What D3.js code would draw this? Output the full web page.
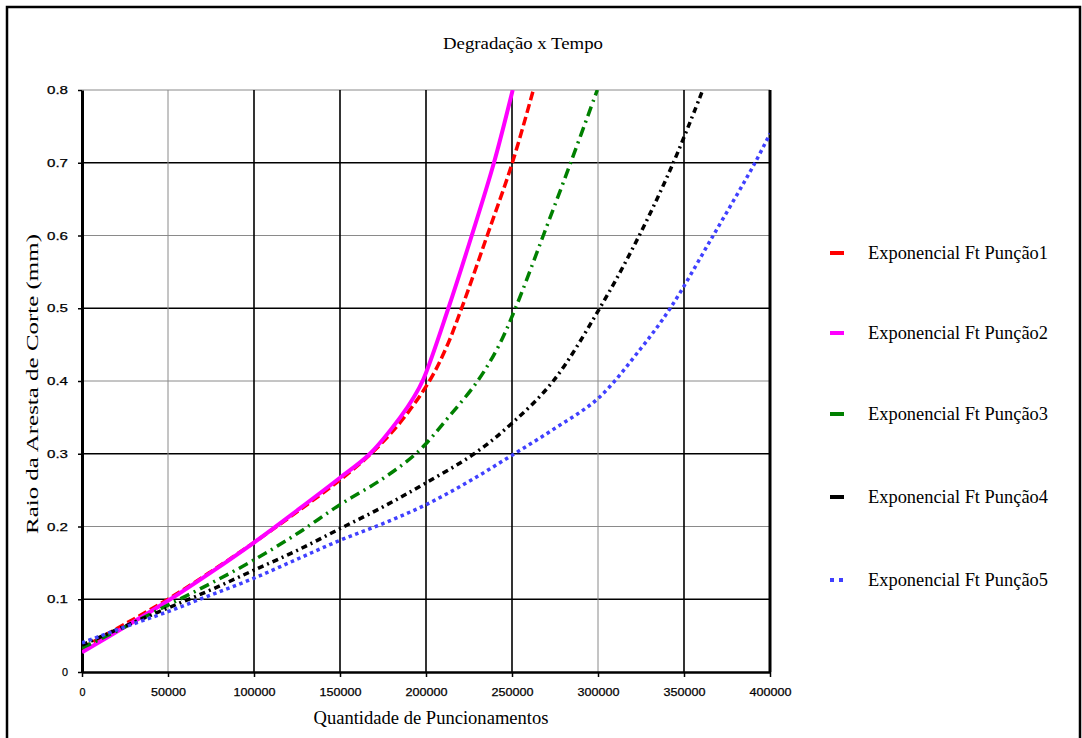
<!DOCTYPE html>
<html>
<head>
<meta charset="utf-8">
<script src="https://cdn.jsdelivr.net/npm/d3@7"></script>
<style>
  html, body { margin: 0; padding: 0; background: #fff; }
  svg { display: block; }
</style>
</head>
<body>
<svg id="chart" width="1082" height="738"></svg>
<script>
// ---------- data ----------
const chartTitle = "Degradação x Tempo";
const xTitle = "Quantidade de Puncionamentos";
const yTitle = "Raio da Aresta de Corte (mm)";
const xTickValues = [0, 50000, 100000, 150000, 200000, 250000, 300000, 350000, 400000];
const xTickLabels = ["0", "50000", "100000", "150000", "200000", "250000", "300000", "350000", "400000"];
const yTickValues = [0, 0.1, 0.2, 0.3, 0.4, 0.5, 0.6, 0.7, 0.8];
const yTickLabels = ["0", "0.1", "0.2", "0.3", "0.4", "0.5", "0.6", "0.7", "0.8"];
const seriesNames = ["Exponencial Ft Punção1", "Exponencial Ft Punção2", "Exponencial Ft Punção3", "Exponencial Ft Punção4", "Exponencial Ft Punção5"];

const puncao1 = [[0,0.033],[25000,0.066],[50000,0.100],[75000,0.138],[100000,0.178],[125000,0.220],[150000,0.264],[168000,0.300],[185000,0.343],[202000,0.400],[212000,0.447],[220700,0.500],[235600,0.600],[250200,0.700],[262400,0.800]];
const puncao2 = [[0,0.027],[25000,0.062],[50000,0.098],[75000,0.137],[100000,0.178],[125000,0.222],[150000,0.267],[167400,0.300],[185000,0.350],[193000,0.378],[198400,0.402],[213000,0.500],[226600,0.600],[239500,0.700],[250400,0.800]];
const puncao3 = [[0,0.033],[25000,0.062],[50000,0.092],[75000,0.122],[100000,0.154],[125000,0.190],[150000,0.230],[175000,0.266],[195000,0.302],[213000,0.350],[230000,0.400],[242000,0.447],[252000,0.500],[268200,0.600],[284100,0.700],[299600,0.800]];
const puncao4 = [[0,0.037],[25000,0.063],[50000,0.088],[75000,0.113],[100000,0.140],[125000,0.167],[150000,0.197],[175000,0.227],[200000,0.260],[228000,0.300],[250000,0.342],[274000,0.400],[301000,0.500],[324000,0.600],[343800,0.700],[360900,0.800]];
const puncao5 = [[0,0.040],[25000,0.062],[50000,0.083],[75000,0.106],[100000,0.129],[125000,0.155],[150000,0.181],[175000,0.204],[200000,0.230],[225000,0.262],[250000,0.298],[275000,0.335],[300000,0.376],[325000,0.445],[342000,0.500],[367000,0.600],[391300,0.700],[400000,0.740]];

const seriesData = [puncao1, puncao2, puncao3, puncao4, puncao5];

// ---------- styles ----------
const colors = ["#ff0000", "#ff00ff", "#008000", "#000000", "#4040ff"];
const dashes = ["9,4", null, "10,5,2,5", "6,4,2,4", "3.5,3.5"];
const widths = [3.5, 4, 3.5, 3.5, 3.5];

const svg = d3.select("#chart");

const x = d3.scaleLinear().domain([0, 400000]).range([82, 770]);
const y = d3.scaleLinear().domain([0, 0.8]).range([672, 90]);

// outer frame
svg.append("rect").attr("x", 7).attr("y", 7).attr("width", 1073).attr("height", 745)
  .attr("fill", "none").attr("stroke", "#000").attr("stroke-width", 2.5);

// title
svg.append("text").attr("x", 523).attr("y", 49).attr("text-anchor", "middle")
  .attr("font-family", "Liberation Serif, Times New Roman, serif").attr("font-size", 17)
  .attr("textLength", 160).attr("lengthAdjust", "spacingAndGlyphs")
  .text(chartTitle);

// grid
const g = svg.append("g");
const blackY = [0.1, 0.3, 0.5, 0.7];
yTickValues.forEach(v => {
  if (v === 0) return;
  const isBlack = blackY.some(b => Math.abs(b - v) < 1e-9);
  g.append("line").attr("x1", x(0)).attr("x2", x(400000)).attr("y1", y(v)).attr("y2", y(v))
    .attr("stroke", isBlack ? "#000" : "#8a8a8a").attr("stroke-width", isBlack ? 1.6 : 1);
});
const grayX = [50000, 300000];
xTickValues.forEach(v => {
  if (v === 0 || v === 400000) return;
  const isGray = grayX.includes(v);
  g.append("line").attr("x1", x(v)).attr("x2", x(v)).attr("y1", y(0)).attr("y2", y(0.8))
    .attr("stroke", isGray ? "#8a8a8a" : "#000").attr("stroke-width", isGray ? 1 : 1.6);
});
g.append("line").attr("x1", x(400000)).attr("x2", x(400000)).attr("y1", y(0)).attr("y2", y(0.8))
  .attr("stroke", "#000").attr("stroke-width", 3);

// axes
const xAxis = d3.axisBottom(x).tickValues(xTickValues).tickFormat((d, i) => xTickLabels[i]).tickSize(5).tickSizeOuter(0);
const yAxis = d3.axisLeft(y).tickValues(yTickValues).tickFormat((d, i) => yTickLabels[i]).tickSize(4).tickSizeOuter(0);

const gx = svg.append("g").attr("transform", `translate(0,${y(0)})`).call(xAxis);
gx.select(".domain").attr("stroke", "#000").attr("stroke-width", 2.5);
gx.selectAll(".tick line").attr("stroke", "#000").attr("stroke-width", 1.5);
gx.selectAll(".tick text").attr("font-family", "Liberation Sans, Arial, sans-serif").attr("font-size", 11)
  .attr("fill", "#000").attr("stroke", "#000").attr("stroke-width", 0.25).attr("dy", "0").attr("y", 24)
  .attr("textLength", d => { const s = xTickLabels[xTickValues.indexOf(d)]; return s.length === 1 ? 6 : s.length * 7; })
  .attr("lengthAdjust", "spacingAndGlyphs");

const gy = svg.append("g").attr("transform", `translate(${x(0)},0)`).call(yAxis);
gy.select(".domain").attr("stroke", "#000").attr("stroke-width", 3);
gy.selectAll(".tick line").attr("stroke", "#000").attr("stroke-width", 1.5);
gy.selectAll(".tick text").attr("font-family", "Liberation Sans, Arial, sans-serif").attr("font-size", 11)
  .attr("fill", "#000").attr("stroke", "#000").attr("stroke-width", 0.25).attr("x", -14)
  .attr("textLength", d => (d === 0 ? 6 : 21))
  .attr("lengthAdjust", "spacingAndGlyphs");

// axis titles
svg.append("text").attr("x", 431).attr("y", 724).attr("text-anchor", "middle")
  .attr("font-family", "Liberation Serif, Times New Roman, serif").attr("font-size", 18)
  .attr("textLength", 235).attr("lengthAdjust", "spacingAndGlyphs")
  .text(xTitle);
svg.append("text").attr("transform", "translate(38,384) rotate(-90)").attr("text-anchor", "middle")
  .attr("font-family", "Liberation Serif, Times New Roman, serif").attr("font-size", 17)
  .attr("textLength", 300).attr("lengthAdjust", "spacingAndGlyphs")
  .text(yTitle);

// clip
svg.append("clipPath").attr("id", "plotclip").append("rect")
  .attr("x", x(0)).attr("y", y(0.8)).attr("width", x(400000) - x(0)).attr("height", y(0) - y(0.8));

const line = d3.line().x(d => x(d[0])).y(d => y(d[1])).curve(d3.curveCatmullRom.alpha(0.5));
const gs = svg.append("g").attr("clip-path", "url(#plotclip)");
seriesData.forEach((s, i) => {
  gs.append("path").datum(s).attr("d", line)
    .attr("fill", "none").attr("stroke", colors[i]).attr("stroke-width", widths[i])
    .attr("stroke-dasharray", dashes[i]);
});

// legend
const legendY = [253, 333, 414, 497, 580];
seriesNames.forEach((name, i) => {
  const ly = legendY[i];
  svg.append("line").attr("x1", 830).attr("x2", 844).attr("y1", ly).attr("y2", ly)
    .attr("stroke", colors[i]).attr("stroke-width", 4)
    .attr("stroke-dasharray", i === 4 ? "4,5" : null);
  svg.append("text").attr("x", 868).attr("y", ly + 6)
    .attr("font-family", "Liberation Serif, Times New Roman, serif").attr("font-size", 18)
    .attr("textLength", 180).attr("lengthAdjust", "spacingAndGlyphs")
    .text(name);
});
</script>
</body>
</html>
